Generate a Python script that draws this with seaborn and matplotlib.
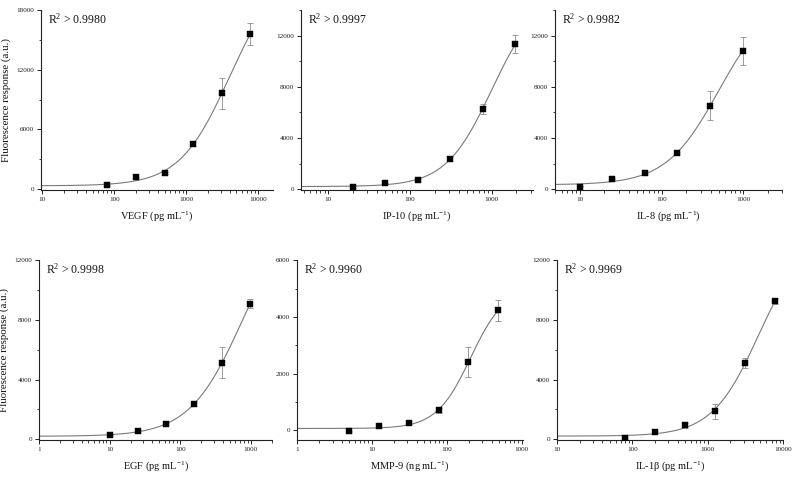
import numpy as np
import pandas as pd
import seaborn as sns
from matplotlib import pyplot as plt
from matplotlib.ticker import LogLocator, NullFormatter, MultipleLocator

# --- data ---
vegf_x = [80, 200, 500, 1250, 3125, 7812.5]
vegf_y = [370, 1170, 1600, 4530, 9630, 15600]
vegf_err = [60, 80, 100, 200, 1550, 1130]

ip10_x = [20, 50, 125, 312.5, 781.25, 1953]
ip10_y = [180, 470, 750, 2380, 6300, 11320]
ip10_err = [40, 60, 80, 150, 400, 700]

il8_x = [10, 25, 62.5, 156.25, 390.6, 976.6]
il8_y = [210, 830, 1240, 2820, 6530, 10800]
il8_err = [40, 60, 80, 100, 1120, 1110]

egf_x = [10, 25, 62.5, 156.25, 390.6, 976.6]
egf_y = [270, 560, 1000, 2360, 5130, 9070]
egf_err = [30, 40, 60, 150, 1030, 300]

mmp9_x = [5, 12.5, 31.25, 78.1, 195.3, 488]
mmp9_y = [-35, 140, 270, 700, 2400, 4230]
mmp9_err = [20, 30, 40, 80, 530, 380]

il1b_x = [80, 200, 500, 1250, 3125, 7812.5]
il1b_y = [110, 490, 930, 1870, 5110, 9270]
il1b_err = [60, 80, 150, 500, 320, 200]

labels = ["VEGF (pg mL$^{-1}$)", "IP-10 (pg mL$^{-1}$)", "IL-8 (pg mL$^{-1}$)",
          "EGF (pg mL$^{-1}$)", "MMP-9 (ng mL$^{-1}$)", "IL-1\u03b2 (pg mL$^{-1}$)"]
r2_texts = ["0.9980", "0.9997", "0.9982", "0.9998", "0.9960", "0.9969"]
x_limits = [(9.5, 16000), (4.6, 3200), (5, 3000), (1, 2000), (1, 1050), (10, 10000)]
y_limits = [(-100, 18000), (-60, 14000), (-60, 14000), (-60, 12000), (-350, 6000), (-60, 12000)]
y_steps = [6000, 4000, 4000, 4000, 2000, 4000]
ylabel = "Fluorescence response (a.u.)"

panels = [
    (vegf_x, vegf_y, vegf_err),
    (ip10_x, ip10_y, ip10_err),
    (il8_x, il8_y, il8_err),
    (egf_x, egf_y, egf_err),
    (mmp9_x, mmp9_y, mmp9_err),
    (il1b_x, il1b_y, il1b_err),
]


def fit_4pl(x, y):
    # grid over slope/midpoint, linear least squares for the two asymptotes
    x = np.asarray(x, float)
    y = np.asarray(y, float)
    best = None
    lx = np.log10(x)
    for b in np.linspace(0.3, 4.0, 75):
        for logc in np.linspace(lx.min() - 1, lx.max() + 3, 161):
            g = 1.0 / (1.0 + (x / 10**logc) ** b)
            m = np.column_stack([g, 1 - g])
            coef, *_ = np.linalg.lstsq(m, y, rcond=None)
            sse = np.sum((m @ coef - y) ** 2)
            if best is None or sse < best[0]:
                best = (sse, b, logc, coef)
    _, b, logc, (a, d) = best
    return lambda xx: d + (a - d) / (1.0 + (xx / 10**logc) ** b)


sns.set_theme(style="ticks")
plt.rcParams["font.family"] = ["Liberation Serif", "DejaVu Serif"]
plt.rcParams["mathtext.fontset"] = "custom"
plt.rcParams["mathtext.rm"] = "Liberation Serif"
plt.rcParams["mathtext.it"] = "Liberation Serif:italic"

fig = plt.figure(figsize=(8, 4.8), dpi=100)
boxes = [
    (0.051, 0.604, 0.290, 0.375),
    (0.376, 0.604, 0.290, 0.375),
    (0.694, 0.604, 0.284, 0.375),
    (0.049, 0.083, 0.291, 0.375),
    (0.371, 0.083, 0.283, 0.375),
    (0.696, 0.083, 0.283, 0.375),
]

for i, (xs, ys, errs) in enumerate(panels):
    ax = fig.add_axes(boxes[i])
    ax.set_xscale("log")
    lo, hi = x_limits[i]
    curve = fit_4pl(xs, ys)
    grid = np.logspace(np.log10(lo), np.log10(xs[-1]), 300)
    sns.lineplot(x=grid, y=curve(grid), ax=ax, color="#7a7a7a", lw=0.8)
    ax.errorbar(xs, ys, yerr=errs, fmt="none", ecolor="#8c8c8c",
                elinewidth=0.6, capsize=2.0, capthick=0.6, zorder=2)
    df = pd.DataFrame({"x": xs, "y": ys})
    sns.scatterplot(data=df, x="x", y="y", ax=ax, marker="s", s=13,
                    color="black", edgecolor="black", linewidth=0.3, zorder=3)

    ax.set_xlim(lo, hi)
    ax.set_ylim(*y_limits[i])
    ax.yaxis.set_major_locator(MultipleLocator(y_steps[i]))
    ax.yaxis.set_minor_locator(MultipleLocator(y_steps[i] / 2))
    ax.xaxis.set_major_locator(LogLocator(base=10))
    ax.xaxis.set_minor_locator(LogLocator(base=10, subs=np.arange(2, 10)))
    ax.xaxis.set_minor_formatter(NullFormatter())
    ax.xaxis.set_major_formatter(plt.FuncFormatter(lambda v, p: f"{v:g}"))
    ax.tick_params(which="major", direction="out", length=3, width=0.7,
                   labelsize=5.2, pad=2, colors="#222222")
    ax.tick_params(which="minor", direction="out", length=1.8, width=0.6,
                   colors="#222222")
    for s in ("left", "bottom"):
        ax.spines[s].set_linewidth(0.8)
        ax.spines[s].set_color("#222222")
    sns.despine(ax=ax)

    ax.set_xlabel(labels[i], fontsize=7.5, labelpad=5, color="#111111")
    ax.set_ylabel(ylabel if i in (0, 3) else "", fontsize=7.8, labelpad=4,
                  color="#111111")
    ax.text(0.03, 0.95, "R$^2$ > " + r2_texts[i], transform=ax.transAxes,
            ha="left", va="center", fontsize=8.5, color="#111111")

fig.savefig("out.png", dpi=100)
